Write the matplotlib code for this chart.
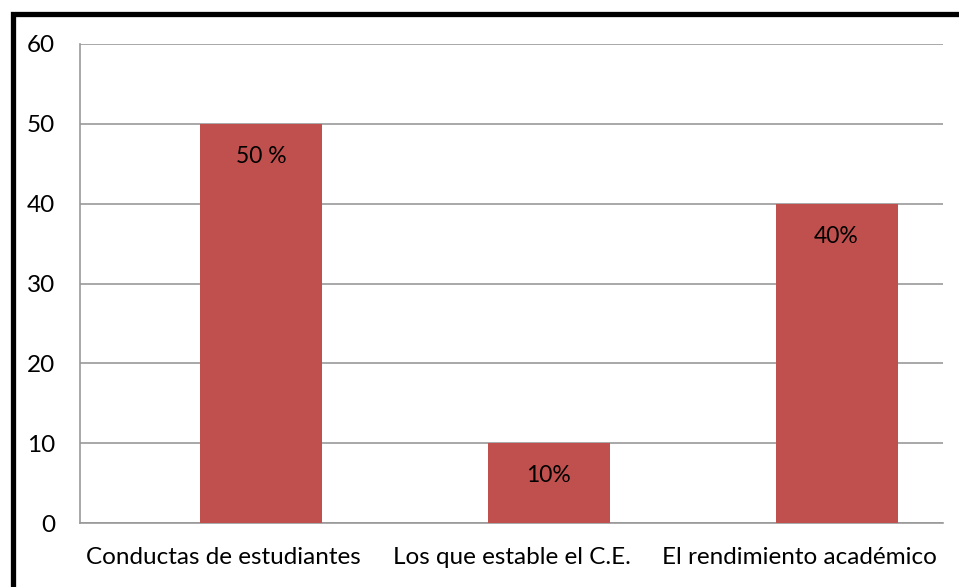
import matplotlib.pyplot as plt
from matplotlib.patches import Rectangle

categories = ["Conductas de estudiantes", "Los que estable el C.E.", "El rendimiento académico"]
values = [50, 10, 40]
bar_labels = ["50 %", "10%", "40%"]
yticks = [0, 10, 20, 30, 40, 50, 60]

plt.rcParams['font.family'] = ['Lato', 'DejaVu Sans']

fig = plt.figure(figsize=(9.59, 5.87), dpi=100)
ax = fig.add_axes([80/959, 1 - 523/587, 863/959, 479/587])

shift = 0.13
pos = [i + shift for i in range(len(categories))]
bars = ax.bar(pos, values, width=0.424, color="#C0504D", zorder=3)

for b, lab in zip(bars, bar_labels):
    ax.text(b.get_x() + b.get_width() / 2, b.get_height() - 4.1, lab,
            ha='center', va='center', fontsize=16.5, color='black', zorder=4)

ax.set_xlim(-0.5, 2.5)
ax.set_ylim(0, 60)
ax.set_yticks(yticks)
ax.set_xticks(range(len(categories)))
ax.set_xticklabels(categories)
ax.tick_params(axis='both', length=0, labelsize=17.5)
ax.tick_params(axis='y', pad=18)
ax.tick_params(axis='x', pad=17)
ax.yaxis.grid(True, color='#999999', linewidth=1.2, zorder=0)

for s in ['top', 'right']:
    ax.spines[s].set_visible(False)
for s in ['left', 'bottom']:
    ax.spines[s].set_color('#999999')
    ax.spines[s].set_linewidth(1.2)

fig.patches.append(Rectangle((12.5/959, -0.1), 1.2, 1 - 14/587 + 0.1,
                             transform=fig.transFigure, fill=False,
                             edgecolor='black', linewidth=3.8))

plt.savefig("out.png", dpi=100)
plt.close()
